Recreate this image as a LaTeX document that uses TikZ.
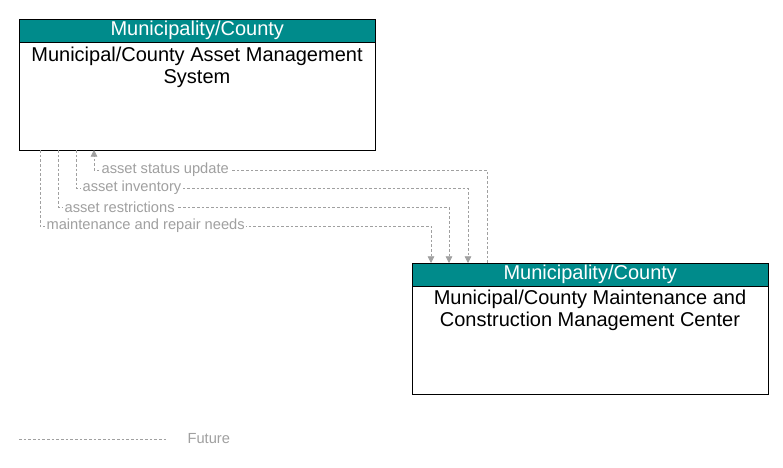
\documentclass[tikz,border=0pt]{standalone}
\usepackage{fontspec}
\setmainfont{Liberation Sans}
\usetikzlibrary{arrows.meta}
\definecolor{hdr}{RGB}{0,139,139}
\definecolor{ln}{RGB}{160,160,160}
\begin{document}
\begin{tikzpicture}[x=0.75pt,y=-0.75pt,
  box/.style={draw=black,fill=white,minimum width=356*0.75pt,minimum height=131*0.75pt,anchor=north west,inner sep=0pt},
  hd/.style={fill=hdr,draw=black,minimum width=356*0.75pt,minimum height=23*0.75pt,anchor=north west,inner sep=0pt,text=white,font=\fontsize{15pt}{17pt}\selectfont},
  ttl/.style={anchor=north,align=center,font=\fontsize{15pt}{17pt}\selectfont},
  flow/.style={draw=ln,dash pattern=on 2pt off 1.5pt,line width=0.6pt},
  arr/.style={flow,-{Triangle[length=5pt,width=5pt]}},
  lbl/.style={fill=white,text=ln,inner sep=1pt,font=\fontsize{11pt}{12pt}\selectfont}]
\useasboundingbox (0,0) rectangle (783,468);
\node[box] (a) at (19,19) {};
\node[hd] (ah) at (19,19) {Municipality/County};
\node[ttl] (at) at (197,42) {Municipal/County Asset Management\\System};
\node[box] (b) at (412,263) {};
\node[hd] (bh) at (412,263) {Municipality/County};
\node[ttl] (bt) at (590,285) {Municipal/County Maintenance and\\Construction Management Center};
% flows
\coordinate (s1) at (487,263); \coordinate (e1) at (94,150);
\draw[arr] (s1) |- (94,170) -- (e1);
\node[lbl,anchor=west] (l1) at (100,170) {asset status update};
\coordinate (s2) at (76,150); \coordinate (e2) at (468,263);
\draw[arr] (s2) |- (468,188) -- (e2);
\node[lbl,anchor=west] (l2) at (81,188) {asset inventory};
\coordinate (s3) at (58,150); \coordinate (e3) at (449,263);
\draw[arr] (s3) |- (449,207) -- (e3);
\node[lbl,anchor=west] (l3) at (63,207) {asset restrictions};
\coordinate (s4) at (40,150); \coordinate (e4) at (431,263);
\draw[arr] (s4) |- (431,226) -- (e4);
\node[lbl,anchor=west] (l4) at (45,226) {maintenance and repair needs};
% legend
\coordinate (f1) at (19,439); \coordinate (f2) at (166,439);
\draw[flow] (f1) -- (f2);
\node[lbl,anchor=west] (fl) at (186,439) {Future};
\end{tikzpicture}
\end{document}
